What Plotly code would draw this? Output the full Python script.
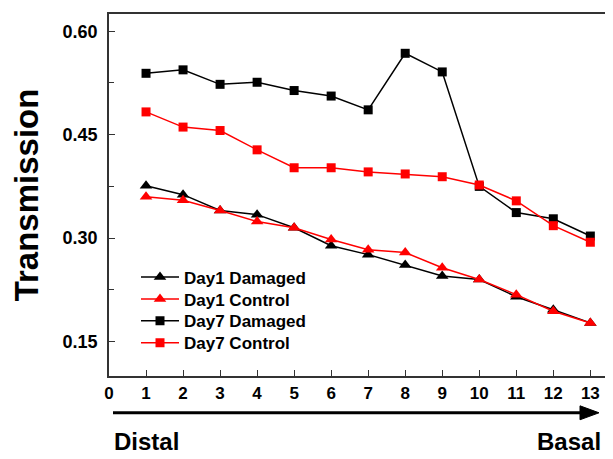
import plotly.graph_objects as go

positions = list(range(1, 14))
day1_damaged = [0.376, 0.363, 0.340, 0.334, 0.315, 0.289, 0.276, 0.261, 0.245, 0.240, 0.215, 0.196, 0.177]
day1_control = [0.360, 0.355, 0.340, 0.324, 0.315, 0.298, 0.283, 0.279, 0.257, 0.240, 0.218, 0.194, 0.177]
day7_damaged = [0.539, 0.544, 0.523, 0.526, 0.514, 0.506, 0.486, 0.568, 0.541, 0.375, 0.337, 0.328, 0.303]
day7_control = [0.483, 0.461, 0.456, 0.428, 0.402, 0.402, 0.396, 0.393, 0.389, 0.377, 0.354, 0.318, 0.294]
series_names = ["Day1 Damaged", "Day1 Control", "Day7 Damaged", "Day7 Control"]
x_tick_labels = [str(i) for i in range(0, 14)]
y_tick_vals = [0.15, 0.30, 0.45, 0.60]

FONT = "Arial, 'Liberation Sans', sans-serif"
BLACK = "#000000"
RED = "#ff0000"

# page geometry (the page body adds an 8px offset)
O = 8
L, R, T, B = 109, 6, 12, 83
W, H = 613, 459
pw, ph = W - L - R, H - T - B
def px(x):
    return (x - L) / pw
def py(y):
    return (H - B - y) / ph

fig = go.Figure()
styles = [
    (day1_damaged, BLACK, "triangle-up", 11),
    (day1_control, RED, "triangle-up", 11),
    (day7_damaged, BLACK, "square", 9),
    (day7_control, RED, "square", 9),
]
legend_ids = ["legend", "legend2", "legend3", "legend4"]
legend_rows = [277, 299, 321, 343]
for name, (vals, col, sym, sz), lid in zip(series_names, styles, legend_ids):
    fig.add_trace(go.Scatter(
        x=positions, y=vals, name=name, mode="lines+markers",
        line=dict(color=col, width=1.5),
        marker=dict(symbol=sym, size=sz, color=col),
        legend=lid,
    ))

ay = py(413)
fig.add_shape(type="line", xref="paper", yref="paper",
              x0=px(113), x1=px(584), y0=ay, y1=ay,
              line=dict(color=BLACK, width=3))
fig.add_shape(type="path", xref="paper", yref="paper",
              path=f"M {px(580)},{py(406)} L {px(599)},{ay} L {px(580)},{py(420)} Z",
              fillcolor=BLACK, line=dict(color=BLACK, width=1))

fig.add_annotation(text="<b>Distal</b>", xref="paper", yref="paper",
                   x=px(112), y=py(442), xanchor="left", yanchor="middle",
                   showarrow=False, font=dict(family=FONT, size=24, color=BLACK))
fig.add_annotation(text="<b>Basal</b>", xref="paper", yref="paper",
                   x=px(603), y=py(442), xanchor="right", yanchor="middle",
                   showarrow=False, font=dict(family=FONT, size=24, color=BLACK))

legend_layout = {}
for lid, row in zip(legend_ids, legend_rows):
    legend_layout[lid] = dict(
        x=px(136), y=py(row), xanchor="left", yanchor="middle",
        bgcolor="rgba(0,0,0,0)",
        font=dict(family=FONT, size=17, color=BLACK, weight="bold"),
        itemwidth=38, tracegroupgap=0,
    )

fig.update_layout(
    width=W - O, height=H - O,
    margin=dict(l=L - O, r=R, t=T - O, b=B),
    paper_bgcolor="white", plot_bgcolor="white",
    font=dict(family=FONT, color=BLACK),
    showlegend=True,
    **legend_layout,
    xaxis=dict(range=[0, 13.45], tickmode="array", tickvals=list(range(0, 14)),
               ticktext=x_tick_labels, ticks="inside", ticklen=6, tickwidth=1.2,
               tickcolor="#333", showline=True, linecolor="#333", linewidth=1.5,
               mirror=True, showgrid=False, zeroline=False,
               tickfont=dict(family=FONT, size=17, color=BLACK, weight="bold"),
               ticklabelstandoff=1),
    yaxis=dict(range=[0.10, 0.625], tickmode="array", tickvals=y_tick_vals,
               tickformat=".2f", ticks="inside", ticklen=6, tickwidth=1.2,
               tickcolor="#333", showline=True, linecolor="#333", linewidth=1.5,
               mirror=True, showgrid=False, zeroline=False,
               minor=dict(tickvals=[0.225, 0.375, 0.525], ticks="inside", ticklen=5,
                          tickcolor="#333", tickwidth=1.2),
               tickfont=dict(family=FONT, size=18, color=BLACK, weight="bold"),
               ticklabelstandoff=6,
               title=dict(text="<b>Transmission</b>", standoff=25,
                          font=dict(family=FONT, size=33, color=BLACK))),
)

fig.write_html("out.html")
